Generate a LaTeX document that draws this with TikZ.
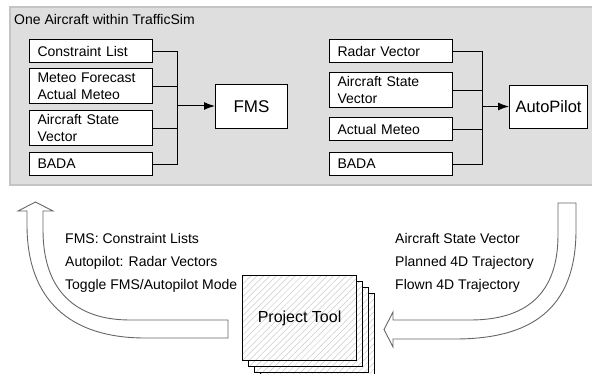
\documentclass[tikz,border=0pt]{standalone}
\usepackage{fontspec}
\setmainfont{Liberation Sans}
\usetikzlibrary{arrows.meta,patterns.meta}
\definecolor{panelfill}{HTML}{DEDEDE}
\definecolor{panelline}{HTML}{C4C4C4}
\definecolor{fatline}{HTML}{666666}
\definecolor{hatch}{HTML}{CCCCCC}
\begin{document}
\begin{tikzpicture}[x=1pt,y=-1pt,
  txt/.style={font=\fontsize{14}{17}\selectfont},
  inbox/.style={txt, draw, fill=white, line width=1.1pt, anchor=north west,
    inner xsep=8pt, inner ysep=0pt, text width=107pt, align=left},
  bigbox/.style={draw, fill=white, line width=1.1pt, anchor=north west, inner sep=0pt},
  label/.style={txt, anchor=base west, inner sep=0pt},
  conn/.style={line width=1pt, black},
  tip/.style={conn, -{Latex[length=11pt,width=8pt]}},
  tool/.style={draw, line width=1.1pt, anchor=north west, inner sep=0pt,
    minimum width=114pt, minimum height=85pt, preaction={fill=white},
    pattern={Lines[angle=45,distance=4.5pt,line width=0.5pt]}, pattern color=hatch},
  fatarrow/.style={draw=fatline, fill=white, line width=0.9pt, line join=miter}
]
\useasboundingbox (0,0) rectangle (592,374);

% panel
\fill[panelfill] (10,7) rectangle (592,185);
\draw[panelline, line width=1.2pt] (592,7) -- (10,7) -- (10,185) -- (592,185);
\node[label] (title) at (14,25) {One Aircraft within TrafficSim};

% FMS inputs
\node[inbox, minimum height=23pt] (c1) at (29,39) {Constraint List};
\node[inbox, minimum height=35pt] (c2) at (29,68) {Meteo Forecast\\Actual Meteo};
\node[inbox, minimum height=35pt] (c3) at (29,110) {Aircraft State\\Vector};
\node[inbox, minimum height=23pt] (c4) at (29,152) {BADA};
\node[bigbox, minimum width=72pt, minimum height=44pt, font=\fontsize{17}{20}\selectfont] (fms) at (215,84) {FMS};
\coordinate (busL) at (177,106);
\foreach \n in {c1,c2,c3,c4} \draw[conn] (\n.east) -| (busL);
\draw[tip] (busL) -- (busL -| fms.west);

% AutoPilot inputs
\node[inbox, minimum height=23pt] (a1) at (329,39) {Radar Vector};
\node[inbox, minimum height=35pt] (a2) at (329,72) {Aircraft State\\Vector};
\node[inbox, minimum height=23pt] (a3) at (329,117) {Actual Meteo};
\node[inbox, minimum height=23pt] (a4) at (329,152) {BADA};
\node[bigbox, minimum width=78pt, minimum height=43pt, font=\fontsize{16.5}{20}\selectfont] (ap) at (509,85) {AutoPilot};
\coordinate (busR) at (482,106.5);
\foreach \n in {a1,a2,a3,a4} \draw[conn] (\n.east) -| (busR);
\draw[tip] (busR) -- (busR -| ap.west);

% fat arrows
\draw[fatarrow] (27,211) -- (18,211) -- (35.5,202) -- (53,211) -- (43,211) -- (43,230)
  .. controls (43,290) and (75,320) .. (130,320) -- (228,320) -- (228,338) -- (145,338)
  .. controls (70,338) and (27,300) .. (27,225) -- cycle;
\draw[fatarrow] (558,203) -- (576,203) -- (576,230)
  .. controls (576,310) and (530,339) .. (455,339) -- (393,339) -- (393,347) -- (384,329.5)
  -- (393,312) -- (393,320) -- (470,320)
  .. controls (525,320) and (558,295) .. (558,235) -- cycle;

% texts
\node[label] (l1) at (65,244) {FMS: Constraint Lists};
\node[label] (l2) at (65,267) {Autopilot: Radar Vectors};
\node[label] (l3) at (65,290) {Toggle FMS/Autopilot Mode};
\node[label] (r1) at (395,243.5) {Aircraft State Vector};
\node[label] (r2) at (395,267) {Planned 4D Trajectory};
\node[label] (r3) at (395,290) {Flown 4D Trajectory};

% project tool stack
\node[tool] (pt4) at (260,293) {};
\node[tool] (pt3) at (254,287) {};
\node[tool] (pt2) at (248,281) {};
\node[tool, font=\fontsize{16}{19}\selectfont] (pt) at (242,275) {Project Tool};
\end{tikzpicture}
\end{document}
